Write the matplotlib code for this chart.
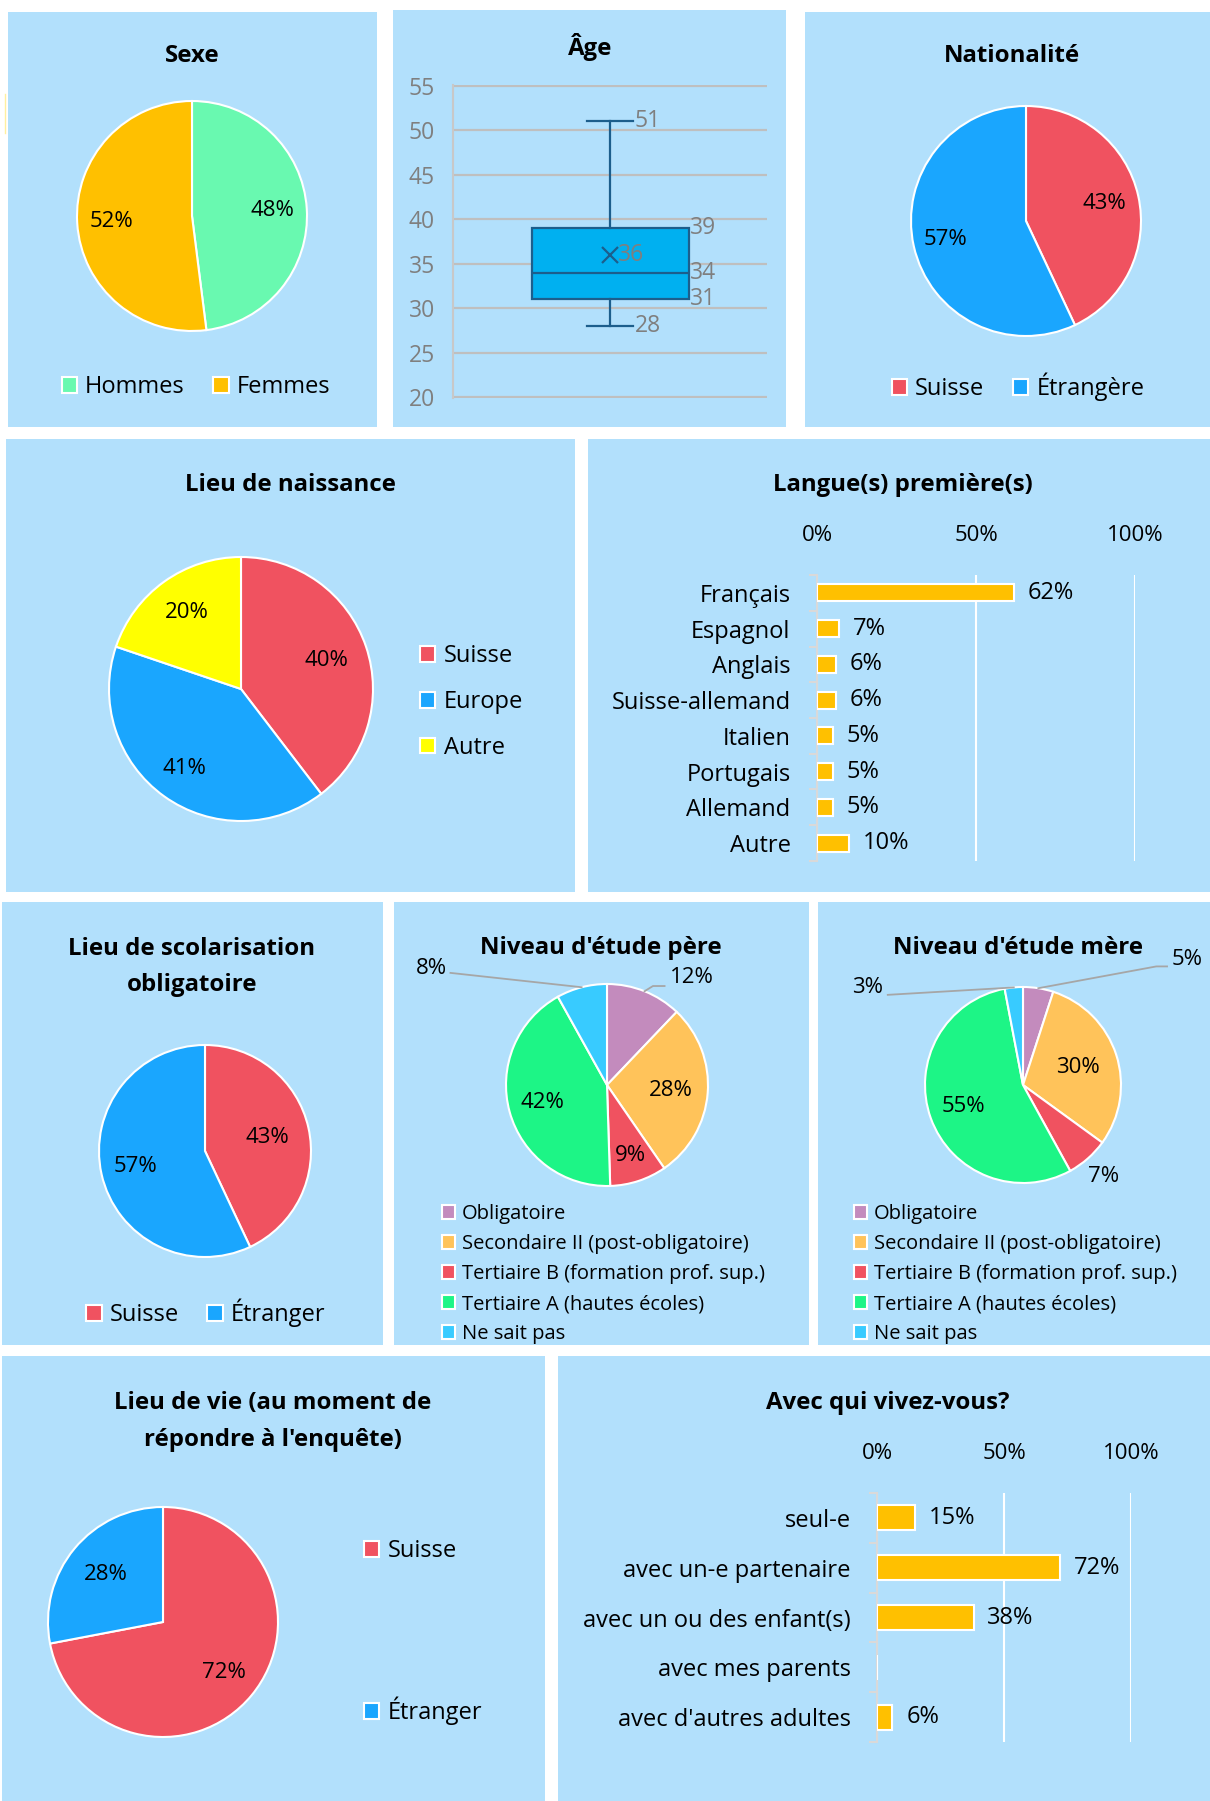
import numpy as np
import matplotlib.pyplot as plt
from matplotlib.patches import Rectangle
from matplotlib.lines import Line2D

plt.rcParams['font.family'] = ['Open Sans', 'DejaVu Sans']

# ---- data ----
sexe_names = ['Hommes', 'Femmes']
sexe_vals = [48, 52]

age_min, age_q1, age_med, age_mean, age_q3, age_max = 28, 31, 34, 36, 39, 51
age_ticks = [20, 25, 30, 35, 40, 45, 50, 55]

nat_names = ['Suisse', 'Étrangère']
nat_vals = [43, 57]

naiss_names = ['Suisse', 'Europe', 'Autre']
naiss_vals = [40, 41, 20]

langues = ['Français', 'Espagnol', 'Anglais', 'Suisse-allemand', 'Italien',
           'Portugais', 'Allemand', 'Autre']
langues_vals = [62, 7, 6, 6, 5, 5, 5, 10]

scol_names = ['Suisse', 'Étranger']
scol_vals = [43, 57]

educ_names = ['Obligatoire', 'Secondaire II (post-obligatoire)',
              'Tertiaire B (formation prof. sup.)', 'Tertiaire A (hautes écoles)',
              'Ne sait pas']
pere_vals = [12, 28, 9, 42, 8]
mere_vals = [5, 30, 7, 55, 3]

vie_names = ['Suisse', 'Étranger']
vie_vals = [72, 28]

avec_names = ['seul-e', 'avec un-e partenaire', 'avec un ou des enfant(s)',
              'avec mes parents', "avec d'autres adultes"]
avec_vals = [15, 72, 38, 0, 6]

pct_ticks = [0, 50, 100]

# ---- colours ----
BG = '#B2E0FC'
RED = '#F05260'
BLUE = '#1AA6FE'
GOLD = '#FFC000'
GRAY = '#7F7F7F'
educ_colors = ['#C38BBD', '#FFC35A', RED, '#1DF586', '#38CBFF']

W, H = 1210, 1801
fig = plt.figure(figsize=(W / 100, H / 100), dpi=100)
fig.patch.set_facecolor('white')


def fbox(x0, y0, x1, y1):
    return [x0 / W, 1 - y1 / H, (x1 - x0) / W, (y1 - y0) / H]


panels = [(8, 12, 377, 427), (393, 10, 786, 427), (805, 12, 1210, 427),
          (6, 439, 575, 892), (588, 439, 1210, 892),
          (2, 902, 383, 1345), (394, 902, 809, 1345), (818, 902, 1210, 1345),
          (2, 1356, 545, 1801), (558, 1356, 1210, 1801)]
for x0, y0, x1, y1 in panels:
    fig.add_artist(Rectangle((x0 / W, 1 - y1 / H), (x1 - x0) / W, (y1 - y0) / H,
                             transform=fig.transFigure, facecolor=BG,
                             edgecolor='none', zorder=-10))
fig.add_artist(Line2D([5 / W, 5 / W], [1 - 94 / H, 1 - 133 / H],
                      transform=fig.transFigure, color='#FFF0A0', lw=1))


def title(x, lines):
    for txt, yb in lines:
        fig.text(x / W, 1 - yb / H, txt, ha='center', va='baseline',
                 fontsize=17.3, fontweight='bold')


def pie_chart(cx, cy, r, values, colors, dists):
    k = 1.03
    ax = fig.add_axes(fbox(cx - r * k, cy - r * k, cx + r * k, cy + r * k))
    wedges, _ = ax.pie(values, colors=colors, startangle=90, counterclock=False,
                       wedgeprops=dict(edgecolor='white', linewidth=1.5))
    ax.set_xlim(-k, k)
    ax.set_ylim(-k, k)
    ax.set_aspect('equal')
    for w, v, d in zip(wedges, values, dists):
        if d is None:
            continue
        a = np.deg2rad((w.theta1 + w.theta2) / 2)
        ax.text(d * np.cos(a), d * np.sin(a), f'{v}%', ha='center', va='center',
                fontsize=16)
    return ax, wedges


def callout(ax, wedge, text, txy, path, ha):
    a = np.deg2rad((wedge.theta1 + wedge.theta2) / 2)
    pts = [(np.cos(a), np.sin(a))] + path
    xs, ys = zip(*pts)
    ax.plot(xs, ys, color='#A6A6A6', lw=1.3, clip_on=False)
    ax.text(txy[0], txy[1], text, ha=ha, va='center', fontsize=16, clip_on=False)


def legend(handles, names, x, y, loc, ncol=1, size=17, spacing=0.5, colsp=1.2):
    fig.legend(handles, names, loc=loc, bbox_to_anchor=(x / W, 1 - y / H),
               ncol=ncol, frameon=False, fontsize=size, handlelength=0.65,
               handleheight=0.65, handletextpad=0.35, columnspacing=colsp,
               labelspacing=spacing, borderpad=0, borderaxespad=0)


def bar_chart(x0, y0, x1, y1, names, values, height):
    ax = fig.add_axes(fbox(x0, y0, x1, y1))
    ax.set_facecolor('none')
    y = np.arange(len(names))
    bars = ax.barh(y, values, height=height, color=GOLD, edgecolor='white',
                   linewidth=1.5, zorder=3)
    ax.bar_label(bars, labels=[f'{v}%' if v else '' for v in values],
                 padding=10, fontsize=17)
    ax.set_xlim(0, 100)
    ax.set_ylim(len(names) - 0.5, -0.5)
    ax.set_xticks(pct_ticks, [f'{t}%' for t in pct_ticks])
    ax.xaxis.tick_top()
    ax.set_yticks(y, names)
    ax.set_yticks(np.arange(-0.5, len(names)), minor=True)
    ax.tick_params(axis='x', length=0, pad=21, labelsize=16)
    ax.tick_params(axis='y', which='major', length=0, pad=19, labelsize=17)
    ax.tick_params(axis='y', which='minor', length=6, width=1.5, color='#D9D9D9')
    ax.xaxis.grid(True, color='white', lw=1.5)
    ax.set_axisbelow(True)
    for s in ['top', 'right', 'bottom']:
        ax.spines[s].set_visible(False)
    ax.spines['left'].set_color('#D9D9D9')
    ax.spines['left'].set_linewidth(1.5)
    return ax


# ---- Sexe ----
title(192, [('Sexe', 62)])
ax, w = pie_chart(192, 216, 115, sexe_vals, ['#69F9B0', GOLD], [0.7, 0.7])
legend(w, sexe_names, 196, 387, 'center', ncol=2)

# ---- Âge ----
title(590, [('Âge', 55)])
ax = fig.add_axes(fbox(453, 85, 767, 398))
ax.set_facecolor('none')
dark = '#1C5E8C'
stats = [dict(whislo=age_min, q1=age_q1, med=age_med, q3=age_q3,
              whishi=age_max, mean=age_mean, fliers=[])]
ax.bxp(stats, positions=[0.5], widths=0.5, capwidths=0.147, showmeans=True,
       patch_artist=True, manage_ticks=False,
       boxprops=dict(facecolor='#00B0F0', edgecolor=dark, linewidth=1.6),
       medianprops=dict(color=dark, linewidth=1.6),
       whiskerprops=dict(color=dark, linewidth=1.6),
       capprops=dict(color=dark, linewidth=1.6),
       meanprops=dict(marker='x', markeredgecolor=dark, markersize=11,
                      markeredgewidth=1.6))
ax.set_xlim(0, 1)
ax.set_ylim(19.9, 55.1)
ax.set_xticks([])
ax.set_yticks(age_ticks)
ax.tick_params(axis='y', length=0, pad=13, labelsize=16.5, labelcolor=GRAY)
ax.yaxis.grid(True, color='#BFBFBF', lw=1.6)
ax.set_axisbelow(True)
for s in ['top', 'right', 'bottom']:
    ax.spines[s].set_visible(False)
ax.spines['left'].set_color('#C8C8C8')
ax.spines['left'].set_linewidth(1.5)
for v, x in [(age_max, 0.5 + 0.147 / 2), (age_q3, 0.75), (age_med, 0.75),
             (age_q1, 0.75), (age_min, 0.5 + 0.147 / 2)]:
    ax.annotate(str(v), (x, v), xytext=(1, 0), textcoords='offset points',
                ha='left', va='center', color=GRAY, fontsize=16.5)
ax.annotate(str(age_mean), (0.5, age_mean), xytext=(6, 0), textcoords='offset points',
            ha='left', va='center', color=GRAY, fontsize=16.5)

# ---- Nationalité ----
title(1012, [('Nationalité', 62)])
ax, w = pie_chart(1026, 221, 115, nat_vals, [RED, BLUE], [0.7, 0.72])
legend(w, nat_names, 1018, 387, 'center', ncol=2)

# ---- Lieu de naissance ----
title(290, [('Lieu de naissance', 491)])
ax, w = pie_chart(241, 689, 132, naiss_vals, [RED, BLUE, '#FFFF00'], [0.68, 0.74, 0.71])
legend(w, naiss_names, 420, 702, 'center left', spacing=0.92)

# ---- Langue(s) première(s) ----
title(903, [('Langue(s) première(s)', 491)])
bar_chart(817, 575, 1135, 861, langues, langues_vals, 0.48)

# ---- Lieu de scolarisation ----
title(192, [('Lieu de scolarisation', 955), ('obligatoire', 991)])
ax, w = pie_chart(205, 1151, 106, scol_vals, [RED, BLUE], [0.6, 0.67])
legend(w, scol_names, 206, 1313, 'center', ncol=2)

# ---- Niveau d'étude père ----
title(601, [("Niveau d'étude père", 954)])
ax, w = pie_chart(607, 1085, 101, pere_vals, educ_colors, [None, 0.63, 0.73, 0.66, None])
callout(ax, w[0], f'{pere_vals[0]}%', (0.62, 1.06), [(0.455, 0.98), (0.57, 0.98)], 'left')
callout(ax, w[4], f'{pere_vals[4]}%', (-1.58, 1.15), [(-1.55, 1.11)], 'right')
legend(w, educ_names, 442, 1274, 'center left', size=14.5, spacing=0.5)

# ---- Niveau d'étude mère ----
title(1018, [("Niveau d'étude mère", 954)])
ax, w = pie_chart(1023, 1085, 98, mere_vals, educ_colors, [None, 0.59, 1.25, 0.65, None])
callout(ax, w[0], f'{mere_vals[0]}%', (1.52, 1.28), [(1.36, 1.21), (1.47, 1.21)], 'left')
callout(ax, w[4], f'{mere_vals[4]}%', (-1.43, 1.0), [(-1.38, 0.92)], 'right')
legend(w, educ_names, 854, 1274, 'center left', size=14.5, spacing=0.5)

# ---- Lieu de vie ----
title(273, [('Lieu de vie (au moment de', 1409), ("répondre à l'enquête)", 1446)])
ax, w = pie_chart(163, 1622, 115, vie_vals, [RED, BLUE], [0.69, 0.65])
legend(w, vie_names, 364, 1632, 'center left', spacing=5.65)

# ---- Avec qui vivez-vous? ----
title(888, [('Avec qui vivez-vous?', 1409)])
bar_chart(877, 1493, 1131, 1742, avec_names, avec_vals, 0.5)

fig.savefig('out.png', dpi=100, facecolor='white')
